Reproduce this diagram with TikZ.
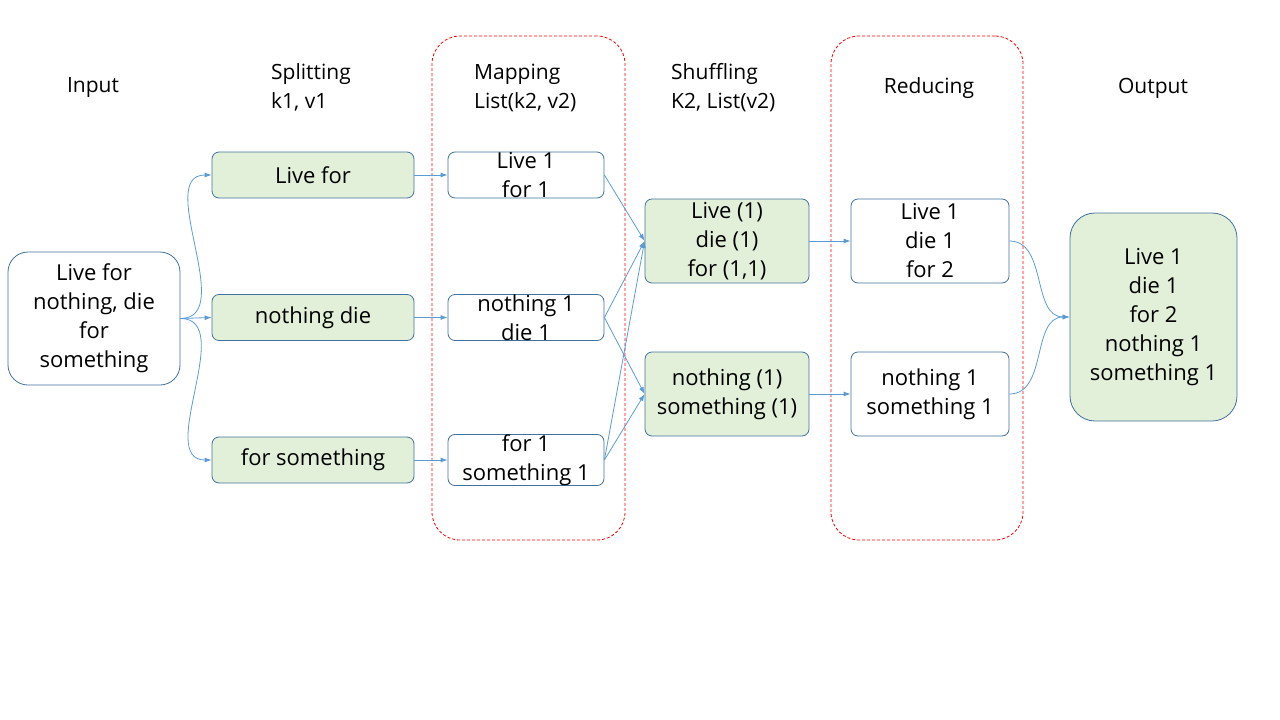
\documentclass[tikz,border=0pt]{standalone}
\usepackage{fontspec}
\setmainfont{Open Sans}
\usetikzlibrary{arrows.meta}
\definecolor{edgec}{HTML}{41719C}
\definecolor{gfill}{HTML}{E2F0D9}
\definecolor{connc}{HTML}{5B9BD5}
\begin{document}
\begin{tikzpicture}[x=1pt,y=-1pt,
  box/.style={draw=edgec, line width=0.8pt, rounded corners=7pt, align=center, inner sep=0pt, font=\fontsize{22}{29}\selectfont},
  wbox/.style={box, fill=white},
  gbox/.style={box, fill=gfill},
  hdr/.style={align=left, inner sep=0pt, font=\fontsize{21}{29}\selectfont},
  conn/.style={draw=connc, line width=0.8pt, -{Latex[length=7pt,width=5pt]}},
  stage/.style={draw=red, dash pattern=on 3pt off 2pt, line width=0.8pt, rounded corners=28pt, inner sep=0pt}]
\useasboundingbox (0,0) rectangle (1280,720);

% stage frames
\node[stage, minimum width=193pt, minimum height=504pt] (mapzone) at (528.5,288) {};
\node[stage, minimum width=192pt, minimum height=504pt] (redzone) at (927,288) {};

% headers
\node[hdr] (hin) at (93,88) {Input};
\node[hdr, anchor=west] (hsp) at (271,87.5) {Splitting\\k1, v1};
\node[hdr, anchor=west] (hmp) at (474,87.5) {Mapping\\List(k2, v2)};
\node[hdr, anchor=west] (hsh) at (671,87.5) {Shuffling\\K2, List(v2)};
\node[hdr] (hrd) at (929,88) {Reducing};
\node[hdr] (hout) at (1153,88) {Output};

% input
\node[wbox, rounded corners=20pt, minimum width=172pt, minimum height=133pt] (in) at (94,318.5) {Live for\\nothing, die\\for\\something};

% splitting
\node[gbox, minimum width=202pt, minimum height=46pt] (s1) at (313,175) {Live for};
\node[gbox, minimum width=202pt, minimum height=46pt] (s2) at (313,317.5) {nothing die};
\node[gbox, minimum width=202pt, minimum height=46pt] (s3) at (313,460) {for something};

% mapping
\node[wbox, minimum width=156pt, minimum height=46pt] (m1) at (526,175) {Live 1\\for 1};
\node[wbox, minimum width=156pt, minimum height=46pt] (m2) at (526,317.5) {nothing 1\\die 1};
\node[wbox, minimum width=156pt, minimum height=46pt] (m3) at (526,460) {for 1\\something 1};

% shuffling
\node[gbox, minimum width=164pt, minimum height=84pt] (h1) at (727,241) {Live (1)\\die (1)\\for (1,1)};
\node[gbox, minimum width=164pt, minimum height=84pt] (h2) at (727,394) {nothing (1)\\something (1)};

% reducing
\node[wbox, minimum width=158pt, minimum height=84pt] (r1) at (930,241) {Live 1\\die 1\\for 2};
\node[wbox, minimum width=158pt, minimum height=84pt] (r2) at (930,394) {nothing 1\\something 1};

% output
\node[gbox, rounded corners=25pt, minimum width=167pt, minimum height=208pt] (out) at (1153.5,317) {Live 1\\die 1\\for 2\\nothing 1\\something 1};

% connectors
\draw[conn] (in.east) to[out=0,in=180] (s1.west);
\draw[conn] (in.east) -- (s2.west);
\draw[conn] (in.east) to[out=0,in=180] (s3.west);

\draw[conn] (s1.east) -- (m1.west);
\draw[conn] (s2.east) -- (m2.west);
\draw[conn] (s3.east) -- (m3.west);

\draw[conn] (m1.east) -- (h1.west);
\draw[conn] (m2.east) -- (h1.west);
\draw[conn] (m3.east) -- (h1.west);
\draw[conn] (m2.east) -- (h2.west);
\draw[conn] (m3.east) -- (h2.west);

\draw[conn] (h1.east) -- (r1.west);
\draw[conn] (h2.east) -- (r2.west);

\draw[conn] (r1.east) to[out=0,in=180] (out.west);
\draw[conn] (r2.east) to[out=0,in=180] (out.west);
\end{tikzpicture}
\end{document}
